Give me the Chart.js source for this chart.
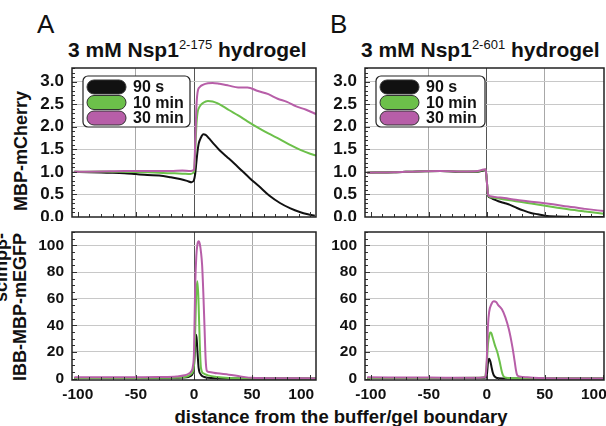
<!DOCTYPE html>
<html>
<head>
<meta charset="utf-8">
<script src="https://cdn.jsdelivr.net/npm/chart.js@4.4.1/dist/chart.umd.min.js"></script>
<style>
  body { margin: 0; background: #fff; width: 606px; height: 426px; overflow: hidden; position: relative;
         font-family: "Liberation Sans", Arial, sans-serif; color: #111; }
  canvas { position: absolute; }
  .txt { position: absolute; white-space: nowrap; }
  .letra { font-size: 26px; line-height: 26px; }
  .titulo { font-weight: bold; font-size: 21px; line-height: 22px; }
  .titulo sup { font-size: 13px; font-weight: normal; vertical-align: 0; position: relative; top: -8px; }
  .ylab { font-weight: bold; font-size: 18px; line-height: 19px; transform-origin: center; }
  .xlab { font-weight: bold; font-size: 18.5px; }
</style>
</head>
<body>

<div class="txt letra" style="left:37px; top:11px;">A</div>
<div class="txt letra" style="left:330px; top:11px;">B</div>
<div class="txt titulo" style="left:68px; top:39px;">3 mM Nsp1<sup>2-175</sup> hydrogel</div>
<div class="txt titulo" style="left:361px; top:39px;">3 mM Nsp1<sup>2-601</sup> hydrogel</div>
<div class="txt ylab" style="left:21px; top:151px; transform: translate(-50%,-50%) rotate(-90deg);">MBP-mCherry</div>
<div class="txt ylab" style="left:11px; top:307px; text-align:right; transform: translate(-50%,-50%) rotate(-90deg);">scImpβ-<br>IBB-MBP-mEGFP</div>
<div class="txt xlab" style="left:341px; top:406px; transform: translateX(-50%);">distance from the buffer/gel boundary</div>

<canvas id="cA1" width="296" height="161" style="left:22px; top:60px;"></canvas>
<canvas id="cB1" width="291" height="161" style="left:315px; top:60px;"></canvas>
<canvas id="cA2" width="296" height="182" style="left:22px; top:224px;"></canvas>
<canvas id="cB2" width="291" height="182" style="left:315px; top:224px;"></canvas>

<script>
// Series y colores
const serieNombres = ["90 s", "10 min", "30 min"];
const serieColores = ["#111111", "#6cc04a", "#b75ea8"];

// Ejes
const xTicks = [-100, -50, 0, 50, 100];
const yTicksArriba = [0, 0.5, 1.0, 1.5, 2.0, 2.5, 3.0];
const yTicksAbajo = [0, 20, 40, 60, 80, 100];

// --- A, MBP-mCherry ---
const xA1negro = [-103, -90, -75, -60, -50, -40, -30, -20, -12, -6, -2, 0, 1, 2, 3, 4, 6, 8, 10, 13, 17, 22, 28, 34, 41, 48, 56, 65, 74, 83, 91, 98, 104];
const yA1negro = [1.0, 0.99, 0.98, 0.97, 0.95, 0.93, 0.92, 0.88, 0.84, 0.80, 0.77, 0.82, 0.95, 1.2, 1.45, 1.62, 1.76, 1.83, 1.82, 1.74, 1.62, 1.48, 1.34, 1.20, 1.03, 0.86, 0.68, 0.47, 0.31, 0.19, 0.11, 0.06, 0.03];
const xA1verde = [-103, -80, -60, -40, -20, -10, -3, 0, 1, 2, 3, 5, 8, 12, 16, 20, 25, 30, 38, 46, 55, 64, 74, 84, 92, 100, 105];
const yA1verde = [1.0, 1.01, 1.0, 0.99, 0.97, 0.96, 0.95, 1.0, 1.4, 2.0, 2.3, 2.45, 2.53, 2.57, 2.56, 2.52, 2.45, 2.37, 2.25, 2.12, 1.98, 1.85, 1.72, 1.58, 1.48, 1.40, 1.36];
const xA1magenta = [-103, -80, -60, -40, -20, -10, -3, 0, 1, 2, 3, 5, 8, 12, 16, 22, 30, 38, 46, 55, 64, 72, 80, 88, 96, 105];
const yA1magenta = [1.0, 1.01, 1.02, 1.02, 1.02, 1.03, 1.02, 1.05, 1.6, 2.4, 2.75, 2.88, 2.93, 2.96, 2.97, 2.95, 2.91, 2.87, 2.87, 2.79, 2.72, 2.62, 2.55, 2.45, 2.38, 2.28];

// --- B, MBP-mCherry ---
const xB1negro = [-103, -80, -60, -40, -20, -8, -3, -1, 0, 1, 3, 6, 10, 15, 20, 26, 32, 38, 44, 50, 60, 75, 90, 101];
const yB1negro = [0.98, 0.99, 1.01, 1.02, 1.0, 1.0, 1.03, 1.04, 0.8, 0.48, 0.43, 0.39, 0.35, 0.31, 0.27, 0.2, 0.14, 0.09, 0.06, 0.03, 0.01, 0.0, 0.0, 0.0];
const xB1verde = [-103, -80, -60, -40, -20, -8, -3, -1, 0, 1, 3, 8, 15, 25, 35, 45, 57, 70, 85, 101];
const yB1verde = [0.98, 0.99, 1.01, 1.02, 1.01, 1.01, 1.04, 1.05, 0.8, 0.5, 0.44, 0.42, 0.39, 0.35, 0.31, 0.27, 0.22, 0.17, 0.12, 0.07];
const xB1magenta = [-103, -80, -60, -40, -20, -8, -3, -1, 0, 1, 3, 8, 15, 25, 35, 45, 57, 70, 85, 101];
const yB1magenta = [0.98, 0.99, 1.01, 1.02, 1.01, 1.02, 1.05, 1.06, 0.8, 0.5, 0.46, 0.44, 0.42, 0.38, 0.35, 0.32, 0.28, 0.23, 0.18, 0.13];

// --- A, scImpβ-IBB-MBP-mEGFP ---
const xA2negro = [-103, -50, -20, -10, -5, -3, -1, 0, 1, 2, 3, 4, 6, 8, 12, 20, 50, 105];
const yA2negro = [0.5, 0.5, 0.6, 0.8, 1.2, 2, 4, 10, 25, 33, 20, 8, 3, 1.5, 0.6, 0.3, 0.1, 0.1];
const xA2verde = [-103, -50, -20, -10, -5, -2, 0, 1, 2, 3, 4, 5, 6, 8, 12, 20, 30, 50, 105];
const yA2verde = [0.5, 0.5, 0.7, 1, 2, 4, 10, 35, 65, 73, 55, 25, 8, 4, 2.5, 1.2, 0.5, 0.2, 0.1];
const xA2magenta = [-103, -60, -30, -15, -8, -4, -2, -1, 0, 1, 2, 3, 4, 5, 6, 7, 8, 9, 10, 11, 13, 20, 30, 40, 50, 70, 105];
const yA2magenta = [1, 1, 1.2, 1.6, 2.5, 4, 6, 9, 20, 69, 92, 101, 103, 101, 95, 85, 65, 40, 15, 6, 5, 4, 3, 1.7, 0.6, 0.3, 0.2];

// --- B, scImpβ-IBB-MBP-mEGFP ---
const xB2negro = [-103, -50, -10, -2, 0, 1, 2, 3, 4, 5, 6, 8, 10, 20, 50, 101];
const yB2negro = [0.5, 0.5, 0.5, 0.7, 3, 12, 15, 13, 9, 5, 2.5, 0.8, 0.4, 0.2, 0.1, 0.1];
const xB2verde = [-103, -50, -10, -2, 0, 1, 2, 3, 4, 5, 7, 9, 11, 13, 14, 15, 17, 20, 30, 50, 101];
const yB2verde = [0.5, 0.5, 0.6, 1, 12, 26, 32, 34.6, 34, 31, 25, 20, 13, 5, 2.5, 1.2, 0.7, 0.5, 0.3, 0.1, 0.1];
const xB2magenta = [-103, -50, -10, -2, -1, 0, 1, 2, 4, 6, 8, 10, 13, 16, 19, 22, 24, 25, 26, 27, 29, 35, 45, 60, 101];
const yB2magenta = [1, 0.8, 0.6, 1, 2, 15, 40, 50, 56, 58, 57.5, 55, 52, 46, 37, 24, 13, 7, 3, 2, 1.5, 1, 0.5, 0.2, 0.1];

// Junta x e y en puntos {x, y}
function puntos(xs, ys) {
  return xs.map((x, i) => ({ x: x, y: ys[i] }));
}

// Quita el relleno automático que Chart.js deja para las etiquetas
function sinRelleno(s) {
  s.paddingTop = 0;
  s.paddingBottom = 0;
  s.paddingLeft = 0;
  s.paddingRight = 0;
}

// Marco, marcas menores, rótulos del eje x y leyenda
function plugMarco(cfg) {
  return {
    id: "marco",
    afterDraw(chart) {
      const ctx = chart.ctx;
      const a = chart.chartArea;
      const sx = chart.scales.x;
      const sy = chart.scales.y;
      ctx.save();
      ctx.strokeStyle = "#333";
      ctx.lineWidth = 1;
      // marcas del eje x (hacia dentro)
      for (let v = -100; v <= 100; v += 10) {
        const px = Math.round(sx.getPixelForValue(v)) + 0.5;
        if (px < a.left || px > a.right) continue;
        const len = v % 50 === 0 ? 5 : 3;
        ctx.beginPath();
        ctx.moveTo(px, a.bottom);
        ctx.lineTo(px, a.bottom - len);
        ctx.stroke();
      }
      // marcas del eje y
      const n = Math.round(cfg.yMax / cfg.yMinor);
      for (let i = 0; i <= n; i++) {
        const v = i * cfg.yMinor;
        const py = Math.round(sy.getPixelForValue(v)) + 0.5;
        if (py < a.top || py > a.bottom) continue;
        const len = i % cfg.yMajorEvery === 0 ? 5 : 3;
        ctx.beginPath();
        ctx.moveTo(a.left, py);
        ctx.lineTo(a.left + len, py);
        ctx.stroke();
      }
      // marco
      ctx.lineWidth = 1.5;
      ctx.strokeStyle = "#222";
      ctx.strokeRect(a.left, a.top, a.right - a.left, a.bottom - a.top);

      // rótulos del eje x; el de 100 va algo corrido a la izquierda como en la figura
      if (cfg.xEtiquetas) {
        ctx.font = "bold 15.5px 'Liberation Sans', Arial, sans-serif";
        ctx.fillStyle = "#111";
        ctx.textAlign = "center";
        ctx.textBaseline = "middle";
        sx.ticks.forEach(t => {
          const px = sx.getPixelForValue(t.value) - (t.value === 100 ? cfg.corrimiento : 0);
          ctx.fillText(String(t.value), px, a.bottom + 15);
        });
      }

      // leyenda
      if (cfg.leyenda) {
        const bx = a.left + 11, by = a.top + 8, bw = cfg.leyendaAncho, bh = 51;
        ctx.textAlign = "left";
        ctx.fillStyle = "#fff";
        ctx.strokeStyle = "#222";
        ctx.lineWidth = 1.2;
        ctx.beginPath();
        ctx.roundRect(bx, by, bw, bh, 5);
        ctx.fill();
        ctx.stroke();
        ctx.font = "bold 16px 'Liberation Sans', Arial, sans-serif";
        ctx.textBaseline = "middle";
        serieNombres.forEach((nombre, i) => {
          const cy = by + 11 + i * 15.5;
          ctx.beginPath();
          ctx.roundRect(bx + 4, cy - 7, 39, 14, 7);
          ctx.fillStyle = serieColores[i];
          ctx.fill();
          ctx.lineWidth = 1;
          ctx.strokeStyle = "#333";
          ctx.stroke();
          ctx.fillStyle = "#111";
          ctx.fillText(nombre, bx + 50, cy + 1);
        });
      }
      ctx.restore();
    }
  };
}

// Crea un panel
function crearPanel(id, datos, opts) {
  const datasets = datos.map((d, i) => ({
    label: serieNombres[i],
    data: d,
    borderColor: serieColores[i],
    borderWidth: 2,
    pointRadius: 0,
    fill: false,
    cubicInterpolationMode: "monotone",
    order: 2 - i // magenta encima
  }));

  return new Chart(document.getElementById(id), {
    type: "line",
    data: { datasets: datasets },
    options: {
      responsive: false,
      animation: false,
      events: [],
      layout: { autoPadding: false, padding: { top: 8, right: 2, left: 0, bottom: 0 } },
      plugins: { legend: { display: false }, tooltip: { enabled: false } },
      scales: {
        x: {
          type: "linear",
          min: -105,
          max: opts.xMax,
          afterBuildTicks: s => { s.ticks = xTicks.map(v => ({ value: v })); },
          afterFit: s => { s.height = opts.xAltura; sinRelleno(s); },
          border: { display: false },
          grid: {
            drawTicks: false,
            lineWidth: 1,
            color: c => c.tick.value === 0 ? "#555" : (Math.abs(c.tick.value) === 50 ? "#a8a8a8" : "rgba(0,0,0,0)")
          },
          ticks: { display: false }
        },
        y: {
          min: opts.yMin,
          max: opts.yMax,
          afterBuildTicks: s => { s.ticks = opts.yTicks.map(v => ({ value: v })); },
          afterFit: s => { s.width = 50; sinRelleno(s); },
          border: { display: false },
          grid: {
            drawTicks: false,
            lineWidth: 1,
            color: c => c.tick.value === 0 ? "rgba(0,0,0,0)" : "#c8c8c8"
          },
          ticks: {
            autoSkip: false,
            padding: 8,
            color: "#111",
            font: { family: "'Liberation Sans', Arial, sans-serif", weight: "bold", size: opts.yFuente },
            callback: opts.yFormato
          }
        }
      }
    },
    plugins: [plugMarco({
      yMax: opts.yMax, yMinor: opts.yMinor, yMajorEvery: opts.yMajorEvery, xEtiquetas: opts.xEtiquetas,
      leyenda: opts.leyenda, leyendaAncho: opts.leyendaAncho, corrimiento: opts.corrimiento
    })]
  });
}

const formatoArriba = v => v.toFixed(1);
const formatoAbajo = v => String(v);

crearPanel("cA1", [puntos(xA1negro, yA1negro), puntos(xA1verde, yA1verde), puntos(xA1magenta, yA1magenta)], {
  xMax: 105, xAltura: 4, xEtiquetas: false, corrimiento: 0, yMin: 0, yMax: 3.3, yTicks: yTicksArriba, yFuente: 17,
  yFormato: formatoArriba, yMinor: 0.1, yMajorEvery: 5, leyenda: true, leyendaAncho: 107
});
crearPanel("cB1", [puntos(xB1negro, yB1negro), puntos(xB1verde, yB1verde), puntos(xB1magenta, yB1magenta)], {
  xMax: 101, xAltura: 4, xEtiquetas: false, corrimiento: 0, yMin: 0, yMax: 3.3, yTicks: yTicksArriba, yFuente: 17,
  yFormato: formatoArriba, yMinor: 0.1, yMajorEvery: 5, leyenda: true, leyendaAncho: 109
});
crearPanel("cA2", [puntos(xA2negro, yA2negro), puntos(xA2verde, yA2verde), puntos(xA2magenta, yA2magenta)], {
  xMax: 105, xAltura: 26, xEtiquetas: true, corrimiento: 9, yMin: -1, yMax: 110, yTicks: yTicksAbajo, yFuente: 15.5,
  yFormato: formatoAbajo, yMinor: 5, yMajorEvery: 4, leyenda: false
});
crearPanel("cB2", [puntos(xB2negro, yB2negro), puntos(xB2verde, yB2verde), puntos(xB2magenta, yB2magenta)], {
  xMax: 101, xAltura: 26, xEtiquetas: true, corrimiento: 9, yMin: -1, yMax: 110, yTicks: yTicksAbajo, yFuente: 15.5,
  yFormato: formatoAbajo, yMinor: 5, yMajorEvery: 4, leyenda: false
});
</script>
</body>
</html>
